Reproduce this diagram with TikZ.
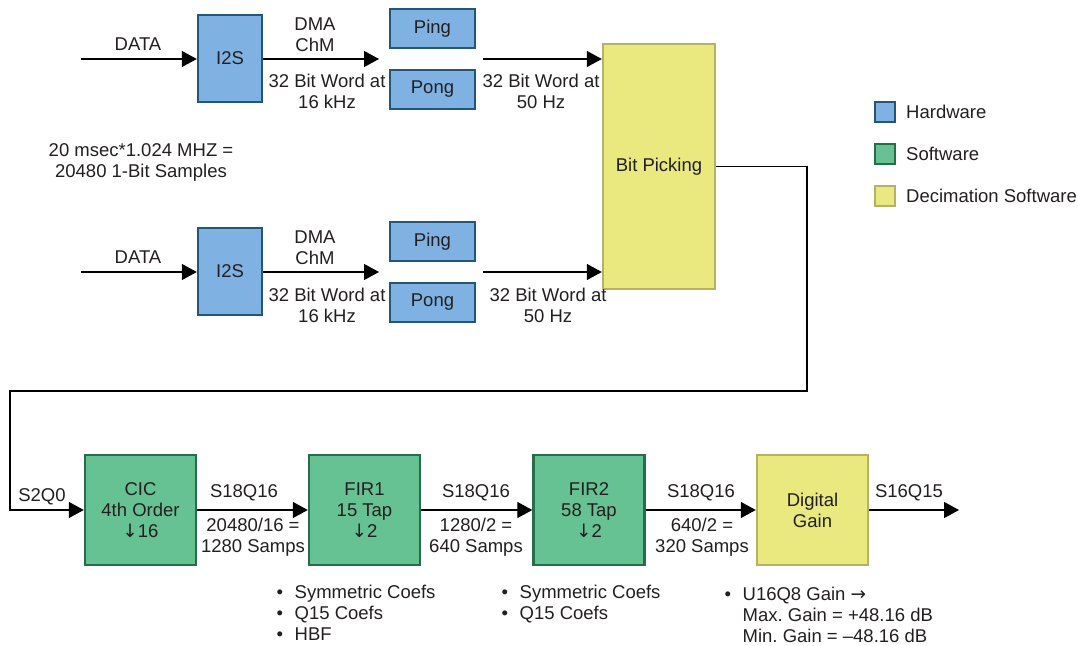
\documentclass[tikz,border=0pt]{standalone}
\usepackage{fontspec}
\setmainfont{Liberation Sans}
\newfontfamily\symfnt{DejaVu Sans}
\usetikzlibrary{arrows.meta}
\definecolor{txt}{RGB}{35,31,32}
\definecolor{hwfill}{RGB}{127,178,226}
\definecolor{hwdraw}{RGB}{36,86,120}
\definecolor{swfill}{RGB}{102,194,146}
\definecolor{swdraw}{RGB}{38,110,72}
\definecolor{dcfill}{RGB}{233,233,128}
\definecolor{dcdraw}{RGB}{181,178,98}
\tikzset{
  every node/.style={font=\fontsize{18.5}{21}\selectfont, text=txt, inner sep=0pt},
  hw/.style={draw=hwdraw, fill=hwfill, line width=2.4pt, align=center},
  sw/.style={draw=swdraw, fill=swfill, line width=2.4pt, align=center, minimum width=111pt, minimum height=110pt},
  dc/.style={draw=dcdraw, fill=dcfill, line width=2.4pt, align=center},
  lab/.style={align=center},
  arr/.style={line width=1.3pt, -{Triangle[length=15pt,width=16pt]}},
  leg/.style={line width=2pt, minimum size=20pt},
}
\newcommand{\bul}{\textbullet}
\newcommand{\dnarrow}{{\symfnt ↓}}
\newcommand{\rtarrow}{{\symfnt →}}
\frenchspacing
\begin{document}
\begin{tikzpicture}[x=1pt,y=-1pt]
\useasboundingbox (0,0) rectangle (1078,645);

% ---- top channel ----
\node[hw, minimum width=64pt, minimum height=87pt] (i2sA) at (230,58.5) {I2S};
\node[hw, minimum width=85pt, minimum height=39pt] (pingA) at (432.5,28.5) {Ping};
\node[hw, minimum width=85pt, minimum height=39pt] (pongA) at (432.5,89.5) {Pong};
\coordinate (dA) at (81,59);
\coordinate (eA) at (379,59);
\coordinate (sA) at (483,59);

% ---- bottom channel ----
\node[hw, minimum width=64pt, minimum height=87pt] (i2sB) at (230,271.5) {I2S};
\node[hw, minimum width=85pt, minimum height=39pt] (pingB) at (432.5,241.5) {Ping};
\node[hw, minimum width=85pt, minimum height=39pt] (pongB) at (432.5,302.5) {Pong};
\coordinate (dB) at (81,272);
\coordinate (eB) at (379,272);
\coordinate (sB) at (483,272);

% ---- bit picking ----
\node[dc, minimum width=112pt, minimum height=245pt] (bit) at (659,166.5) {Bit Picking};

\draw[arr] (dA) -- (dA -| i2sA.west);
\draw[arr] (dA -| i2sA.east) -- (eA);
\draw[arr] (sA) -- (sA -| bit.west);
\draw[arr] (dB) -- (dB -| i2sB.west);
\draw[arr] (dB -| i2sB.east) -- (eB);
\draw[arr] (sB) -- (sB -| bit.west);

\node[lab] (lDataA) at (138,44) {DATA};
\node[lab] (lDmaA) at (315,34.5) {DMA\\ChM};
\node[lab] (lWA) at (327,91) {32 Bit Word at\\16 kHz};
\node[lab] (lW2A) at (541,91) {32 Bit Word at\\50 Hz};
\node[lab] (lDataB) at (138,257) {DATA};
\node[lab] (lDmaB) at (315,248) {DMA\\ChM};
\node[lab] (lWB) at (327,305) {32 Bit Word at\\16 kHz};
\node[lab] (lW2B) at (548,305) {32 Bit Word at\\50 Hz};
\node[lab] (lMsec) at (141,162.5) {20 msec*1.024 MHZ =\\20480 1-Bit Samples};

% ---- legend ----
\node[leg, draw=hwdraw, fill=hwfill] (kHw) at (884.5,112) {};
\node[leg, draw=swdraw, fill=swfill] (kSw) at (884.5,154) {};
\node[leg, draw=dcdraw, fill=dcfill] (kDc) at (884.5,196) {};
\node[anchor=west] (tHw) at (906,112) {Hardware};
\node[anchor=west] (tSw) at (906,154) {Software};
\node[anchor=west] (tDc) at (906,196) {Decimation Software};

% ---- decimation chain ----
\node[sw] (cic) at (140.5,510) {CIC\\4th Order\\\dnarrow16};
\node[sw] (fir1) at (364.5,510) {FIR1\\15 Tap\\\dnarrow2};
\node[sw] (fir2) at (589,510) {FIR2\\58 Tap\\\dnarrow2};
\node[dc, minimum width=111pt, minimum height=110pt] (gain) at (812.5,510) {Digital\\Gain};
\coordinate (fb1) at (807,391);
\coordinate (fb2) at (10,391);
\coordinate (out) at (959,510);

\draw[arr] (bit.east) -| (fb1) -- (fb2) |- (cic.west);
\draw[arr] (cic.east) -- (fir1.west);
\draw[arr] (fir1.east) -- (fir2.west);
\draw[arr] (fir2.east) -- (gain.west);
\draw[arr] (gain.east) -- (out);

\node[lab] (lS2) at (42,497) {S2Q0};
\node[lab] (lS1) at (244,493) {S18Q16};
\node[lab] (lS3) at (476,493) {S18Q16};
\node[lab] (lS4) at (701,493) {S18Q16};
\node[lab] (lS5) at (909,493) {S16Q15};
\node[lab] (lR1) at (253,537.5) {20480/16 =\\1280 Samps};
\node[lab] (lR2) at (476,537.5) {1280/2 =\\640 Samps};
\node[lab] (lR3) at (702,537.5) {640/2 =\\320 Samps};

\node[anchor=base west] (b1) at (276.5,598.5) {\begin{tabular}[t]{@{}l@{\hspace{11.5pt}}l@{}}\bul & Symmetric Coefs\\ \bul & Q15 Coefs\\ \bul & HBF\end{tabular}};
\node[anchor=base west] (b2) at (501.5,598.5) {\begin{tabular}[t]{@{}l@{\hspace{11.5pt}}l@{}}\bul & Symmetric Coefs\\ \bul & Q15 Coefs\end{tabular}};
\node[anchor=base west] (b3) at (724.5,600.5) {\begin{tabular}[t]{@{}l@{\hspace{11.5pt}}l@{}}\bul & U16Q8 Gain \rtarrow\\ & Max. Gain = +48.16 dB\\ & Min. Gain = –48.16 dB\end{tabular}};
\end{tikzpicture}
\end{document}
